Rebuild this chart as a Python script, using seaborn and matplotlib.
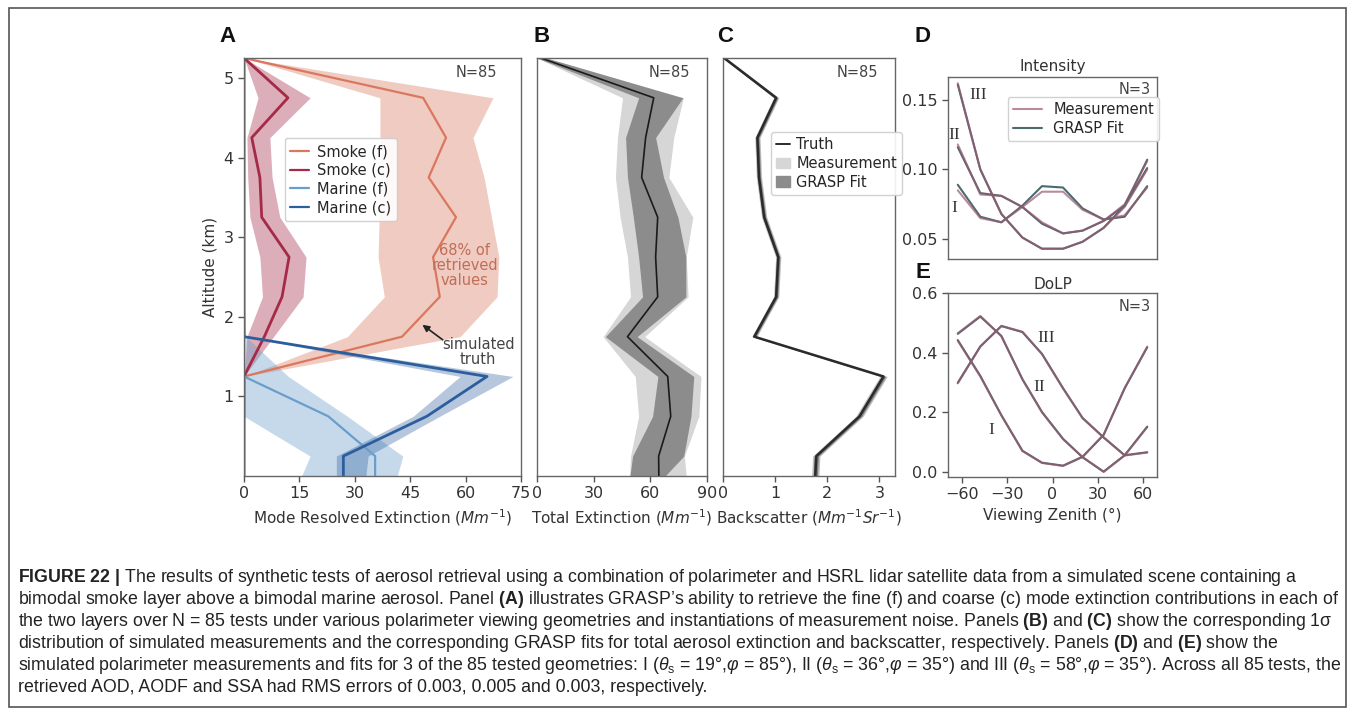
import matplotlib
matplotlib.use("Agg")
import matplotlib.pyplot as plt
from matplotlib import font_manager
from matplotlib.lines import Line2D
from matplotlib.patches import Patch, Rectangle
import numpy as np
import pandas as pd
import seaborn as sns

# ---------------------------------------------------------------- data
# altitude grid of the vertical profiles (km)
altitude = [5.25, 4.75, 4.25, 3.75, 3.25, 2.75, 2.25, 1.75, 1.25, 0.75, 0.25, 0.0]

# panel A: mode resolved extinction (Mm^-1), truth and 68% band
smoke_f = [0, 48.5, 54.7, 50.0, 57.4, 51.2, 53.0, 42.8, 0, 0, 0, 0]
smoke_f_lo = [0, 36.8, 36.8, 36.8, 36.6, 36.3, 38.0, 28.0, 0, 0, 0, 0]
smoke_f_hi = [0, 67.4, 62.0, 65.0, 67.0, 69.0, 68.5, 58.5, 0, 0, 0, 0]

smoke_c = [0, 11.9, 2.1, 4.3, 4.8, 12.2, 10.3, 5.5, 0, 0, 0, 0]
smoke_c_lo = [0, 3.8, 0.8, 1.0, 1.6, 4.3, 5.0, 0.8, 0, 0, 0, 0]
smoke_c_hi = [0, 17.9, 7.0, 7.6, 9.7, 16.8, 16.0, 8.0, 0, 0, 0, 0]

marine_f = [0, 0, 0, 0, 0, 0, 0, 0, 0, 22.8, 35.5, 35.5]
marine_f_lo = [0, 0, 0, 0, 0, 0, 0, 0, 0, 0, 17.9, 15.6]
marine_f_hi = [0, 0, 0, 0, 0, 0, 0, 0.5, 12.0, 28.0, 43.0, 41.5]

marine_c = [0, 0, 0, 0, 0, 0, 0, 0, 65.8, 49.5, 26.9, 26.9]
marine_c_lo = [0, 0, 0, 0, 0, 0, 0, 0, 58.5, 45.8, 25.0, 25.0]
marine_c_hi = [0, 0, 0, 0, 0, 0, 0, 0, 72.8, 53.0, 33.6, 33.0]

# panel B: total extinction (Mm^-1)
ext_truth = [2, 61.8, 57.5, 55.4, 63.9, 62.8, 63.9, 47.9, 69.2, 70.8, 64.4, 64.5]
ext_fit_lo = [0, 53.8, 46.9, 47.9, 51.0, 53.8, 55.9, 36.2, 64.0, 61.2, 50.6, 49.2]
ext_fit_hi = [5, 77.2, 62.8, 67.0, 74.6, 78.8, 78.8, 53.0, 83.0, 81.5, 77.7, 67.8]
ext_meas_lo = [0, 45.3, 42.6, 41.5, 44.0, 47.9, 49.5, 35.0, 52.0, 53.8, 49.5, 49.0]
ext_meas_hi = [5, 77.5, 72.4, 69.8, 82.5, 79.0, 80.0, 57.0, 86.8, 85.7, 78.0, 79.0]

# panel C: backscatter (Mm^-1 sr^-1)
bsc_truth = [0.02, 1.02, 0.66, 0.69, 0.79, 1.06, 1.02, 0.60, 3.08, 2.62, 1.79, 1.77]
bsc_fit_lo = [0.0, 0.99, 0.63, 0.66, 0.76, 1.03, 0.99, 0.57, 3.04, 2.58, 1.75, 1.73]
bsc_fit_hi = [0.05, 1.05, 0.69, 0.72, 0.82, 1.09, 1.05, 0.63, 3.12, 2.66, 1.83, 1.81]
bsc_meas_lo = [0.0, 0.97, 0.61, 0.64, 0.74, 1.01, 0.97, 0.55, 3.01, 2.55, 1.72, 1.70]
bsc_meas_hi = [0.07, 1.07, 0.71, 0.74, 0.84, 1.11, 1.07, 0.65, 3.15, 2.69, 1.86, 1.84]

# panels D/E: polarimeter viewing zenith angles (deg)
vza = [-63, -48, -34, -20, -7, 7, 20, 34, 48, 63]
geometries = ["I", "II", "III"]

int_meas = {
    "I":   [0.085, 0.065, 0.062, 0.073, 0.084, 0.084, 0.071, 0.064, 0.067, 0.087],
    "II":  [0.118, 0.082, 0.081, 0.073, 0.062, 0.054, 0.056, 0.063, 0.075, 0.106],
    "III": [0.162, 0.100, 0.068, 0.051, 0.043, 0.043, 0.048, 0.058, 0.073, 0.100],
}
int_fit = {
    "I":   [0.089, 0.066, 0.062, 0.074, 0.088, 0.087, 0.072, 0.064, 0.066, 0.088],
    "II":  [0.116, 0.083, 0.081, 0.073, 0.061, 0.054, 0.056, 0.063, 0.074, 0.107],
    "III": [0.161, 0.100, 0.068, 0.051, 0.043, 0.043, 0.048, 0.058, 0.074, 0.101],
}
dolp_meas = {
    "I":   [0.440, 0.320, 0.190, 0.070, 0.030, 0.020, 0.050, 0.125, 0.280, 0.420],
    "II":  [0.465, 0.523, 0.455, 0.310, 0.200, 0.110, 0.050, 0.000, 0.055, 0.065],
    "III": [0.297, 0.420, 0.490, 0.470, 0.395, 0.280, 0.180, 0.115, 0.055, 0.150],
}
dolp_fit = {
    "I":   [0.442, 0.322, 0.190, 0.071, 0.031, 0.021, 0.051, 0.124, 0.281, 0.418],
    "II":  [0.463, 0.521, 0.456, 0.311, 0.201, 0.111, 0.049, 0.001, 0.056, 0.066],
    "III": [0.299, 0.421, 0.489, 0.469, 0.396, 0.281, 0.181, 0.116, 0.056, 0.152],
}

# ---------------------------------------------------------------- style
sns.set_theme(style="ticks")
plt.rcParams["font.family"] = ["DejaVu Sans"]
plt.rcParams["axes.edgecolor"] = "#666666"
plt.rcParams["axes.linewidth"] = 1.0

names = {f.name for f in font_manager.fontManager.ttflist}
cap_family = "Liberation Sans Narrow" if "Liberation Sans Narrow" in names else "Liberation Sans"
plt.rcParams["mathtext.fontset"] = "custom"
plt.rcParams["mathtext.rm"] = cap_family
plt.rcParams["mathtext.it"] = cap_family + ":italic"
plt.rcParams["mathtext.bf"] = cap_family + ":bold"

C_SMOKE_F = "#d9785e"
C_SMOKE_C = "#a52a47"
C_MARINE_F = "#6a9dca"
C_MARINE_C = "#2c5e9e"
C_MEAS = "#9b5a72"
C_FIT = "#4d6a6e"

W, H = 1355, 716
fig = plt.figure(figsize=(W / 100, H / 100), dpi=100)


def box(x0, y0, x1, y1):
    return [x0 / W, 1 - y1 / H, (x1 - x0) / W, (y1 - y0) / H]


axA = fig.add_axes(box(244, 58, 521, 476))
axB = fig.add_axes(box(537, 58, 707, 476))
axC = fig.add_axes(box(723, 58, 895, 476))
axD = fig.add_axes(box(948, 77, 1157, 259))
axE = fig.add_axes(box(948, 293, 1157, 477))

for ax in (axA, axB, axC, axD, axE):
    ax.tick_params(labelsize=11.5, length=4, width=1, color="#555555",
                   labelcolor="#333333", direction="out")
    for s in ax.spines.values():
        s.set_visible(True)

label_kw = dict(fontsize=11, color="#333333", math_fontfamily="dejavusans")

# ---------------------------------------------------------------- panel A
for lo, hi, c, a in [(smoke_f_lo, smoke_f_hi, C_SMOKE_F, 0.38),
                     (smoke_c_lo, smoke_c_hi, C_SMOKE_C, 0.38),
                     (marine_f_lo, marine_f_hi, C_MARINE_F, 0.38),
                     (marine_c_lo, marine_c_hi, C_MARINE_C, 0.35)]:
    axA.fill_betweenx(altitude, lo, hi, color=c, alpha=a, lw=0)

for vals, c, lw in [(smoke_f, C_SMOKE_F, 1.6), (smoke_c, C_SMOKE_C, 2.0),
                    (marine_f, C_MARINE_F, 1.6), (marine_c, C_MARINE_C, 2.0)]:
    sns.lineplot(x=vals, y=altitude, sort=False, estimator=None, ax=axA,
                 color=c, linewidth=lw, legend=False)

axA.set_xlim(0, 75)
axA.set_ylim(0, 5.25)
axA.set_xticks([0, 15, 30, 45, 60, 75])
axA.set_yticks([1, 2, 3, 4, 5])
axA.set_xlabel(r"Mode Resolved Extinction ($Mm^{-1}$)", **label_kw)
axA.set_ylabel("Altitude (km)", **label_kw)
handlesA = [Line2D([], [], color=c, lw=1.6) for c in
            (C_SMOKE_F, C_SMOKE_C, C_MARINE_F, C_MARINE_C)]
axA.legend(handlesA, ["Smoke (f)", "Smoke (c)", "Marine (f)", "Marine (c)"],
           loc="upper left", bbox_to_anchor=(0.12, 0.825), fontsize=10.5,
           handlelength=1.3, handletextpad=0.5, labelspacing=0.25,
           borderpad=0.4, frameon=True, framealpha=0.9, edgecolor="#cccccc")
axA.text(0.913, 0.966, "N=85", transform=axA.transAxes, ha="right",
         va="center", fontsize=10.5, color="#444444")
axA.text(59.8, 2.65, "68% of\nretrieved\nvalues", ha="center", va="center",
         fontsize=10.5, color="#c06e58", linespacing=1.0)
axA.annotate("", xy=(47.7, 1.92), xytext=(54.4, 1.69),
             arrowprops=dict(arrowstyle="-|>", color="#222222", lw=1.2,
                             mutation_scale=10))
axA.text(63.4, 1.56, "simulated\ntruth", ha="center", va="center",
         fontsize=10.5, color="#444444", linespacing=1.0)

# ---------------------------------------------------------------- panel B
axB.fill_betweenx(altitude, ext_meas_lo, ext_meas_hi, color="#d6d6d6", lw=0)
axB.fill_betweenx(altitude, ext_fit_lo, ext_fit_hi, color="#8c8c8c", lw=0)
sns.lineplot(x=ext_truth, y=altitude, sort=False, estimator=None, ax=axB,
             color="#1a1a1a", linewidth=1.2, legend=False)
axB.set_xlim(0, 90)
axB.set_ylim(0, 5.25)
axB.set_xticks([0, 30, 60, 90])
axB.tick_params(axis="y", left=False, labelleft=False)
axB.set_xlabel(r"Total Extinction ($Mm^{-1}$)", **label_kw)
axB.text(0.9, 0.966, "N=85", transform=axB.transAxes, ha="right",
         va="center", fontsize=10.5, color="#444444")

# ---------------------------------------------------------------- panel C
axC.fill_betweenx(altitude, bsc_meas_lo, bsc_meas_hi, color="#bdbdbd", lw=0)
axC.fill_betweenx(altitude, bsc_fit_lo, bsc_fit_hi, color="#7a7a7a", lw=0)
sns.lineplot(x=bsc_truth, y=altitude, sort=False, estimator=None, ax=axC,
             color="#2b2b2b", linewidth=1.8, legend=False)
axC.set_xlim(0, 3.3)
axC.set_ylim(0, 5.25)
axC.set_xticks([0, 1, 2, 3])
axC.tick_params(axis="y", left=False, labelleft=False)
axC.set_xlabel(r"Backscatter ($Mm^{-1}Sr^{-1}$)", **label_kw)
axC.text(0.9, 0.966, "N=85", transform=axC.transAxes, ha="right",
         va="center", fontsize=10.5, color="#444444")
handlesC = [Line2D([], [], color="#2b2b2b", lw=1.4),
            Patch(color="#d6d6d6"), Patch(color="#8c8c8c")]
axC.legend(handlesC, ["Truth", "Measurement", "GRASP Fit"], loc="upper left",
           bbox_to_anchor=(0.235, 0.84), fontsize=10.5, handlelength=1.0,
           handletextpad=0.4, labelspacing=0.25, borderpad=0.35,
           frameon=True, framealpha=0.9, edgecolor="#cccccc")

# ---------------------------------------------------------------- panels D, E
for ax, meas, fit in [(axD, int_meas, int_fit), (axE, dolp_meas, dolp_fit)]:
    for g in geometries:
        sns.lineplot(x=vza, y=fit[g], sort=False, estimator=None, ax=ax,
                     color=C_FIT, linewidth=1.5, legend=False)
        sns.lineplot(x=vza, y=meas[g], sort=False, estimator=None, ax=ax,
                     color=C_MEAS, linewidth=1.5, alpha=0.7, legend=False)
    ax.set_xlim(-69.5, 69.5)
    ax.set_xticks([-60, -30, 0, 30, 60])

axD.set_ylim(0.0356, 0.1665)
axD.set_yticks([0.05, 0.10, 0.15])
axD.set_yticklabels(["0.05", "0.10", "0.15"])
axD.tick_params(axis="x", bottom=False, labelbottom=False)
axD.set_title("Intensity", fontsize=11, color="#333333", pad=4)
axD.text(0.97, 0.93, "N=3", transform=axD.transAxes, ha="right",
         va="center", fontsize=10.5, color="#444444")
handlesD = [Line2D([], [], color=C_MEAS, lw=1.5, alpha=0.7),
            Line2D([], [], color=C_FIT, lw=1.5)]
axD.legend(handlesD, ["Measurement", "GRASP Fit"], loc="upper left",
           bbox_to_anchor=(0.25, 0.93), fontsize=10.5, handlelength=2.0,
           labelspacing=0.25, borderpad=0.35, frameon=True, framealpha=0.9,
           edgecolor="#cccccc")

axE.set_ylim(-0.017, 0.6)
axE.set_yticks([0.0, 0.2, 0.4, 0.6])
axE.set_yticklabels(["0.0", "0.2", "0.4", "0.6"])
axE.set_title("DoLP", fontsize=11, color="#333333", pad=3)
axE.set_xlabel("Viewing Zenith (°)", **label_kw)
axE.text(0.97, 0.924, "N=3", transform=axE.transAxes, ha="right",
         va="center", fontsize=10.5, color="#444444")

roman_kw = dict(family="Liberation Serif", fontsize=12.5, color="#333333",
                ha="left", va="center")
axD.text(-55, 0.1536, "III", **roman_kw)
axD.text(-69, 0.125, "II", **roman_kw)
axD.text(-67, 0.072, "I", **roman_kw)
axE.text(-10, 0.45, "III", **roman_kw)
axE.text(-13, 0.284, "II", **roman_kw)
axE.text(-43, 0.14, "I", **roman_kw)

# ---------------------------------------------------------------- panel letters
for letter, x, y in [("A", 227, 36), ("B", 542, 36), ("C", 725, 36),
                     ("D", 923, 37), ("E", 923, 272)]:
    fig.text(x / W, 1 - y / H, letter, ha="center", va="center",
             fontsize=16, fontweight="bold", family="Liberation Sans",
             color="#111111")

# ---------------------------------------------------------------- caption
cap_lines = [
    r"$\mathbf{FIGURE\ 22\ |}$ The results of synthetic tests of aerosol retrieval using a combination of polarimeter and HSRL lidar satellite data from a simulated scene containing a",
    r"bimodal smoke layer above a bimodal marine aerosol. Panel $\mathbf{(A)}$ illustrates GRASP’s ability to retrieve the fine (f) and coarse (c) mode extinction contributions in each of",
    r"the two layers over N = 85 tests under various polarimeter viewing geometries and instantiations of measurement noise. Panels $\mathbf{(B)}$ and $\mathbf{(C)}$ show the corresponding 1σ",
    r"distribution of simulated measurements and the corresponding GRASP fits for total aerosol extinction and backscatter, respectively. Panels $\mathbf{(D)}$ and $\mathbf{(E)}$ show the",
    r"simulated polarimeter measurements and fits for 3 of the 85 tested geometries: I ($\theta_\mathrm{s}$ = 19°,$\varphi$ = 85°), II ($\theta_\mathrm{s}$ = 36°,$\varphi$ = 35°) and III ($\theta_\mathrm{s}$ = 58°,$\varphi$ = 35°). Across all 85 tests, the",
    r"retrieved AOD, AODF and SSA had RMS errors of 0.003, 0.005 and 0.003, respectively.",
]
cap_y = [577, 599, 621, 643, 665, 687]
cap_texts = [fig.text(18 / W, 1 - y / H, s, ha="left", va="center",
                      fontsize=10, family=cap_family, color="#222222")
             for s, y in zip(cap_lines, cap_y)]
renderer = fig.canvas.get_renderer()
w_ref = cap_texts[1].get_window_extent(renderer).width
scale = 1322.0 / w_ref
for t in cap_texts:
    t.set_fontsize(10 * scale)

fig.add_artist(Rectangle((9 / W, 1 - 707 / H), (1346 - 9) / W, (707 - 8) / H,
                         transform=fig.transFigure, fill=False,
                         edgecolor="#555555", lw=1.2))

fig.savefig("out.png", dpi=100)
